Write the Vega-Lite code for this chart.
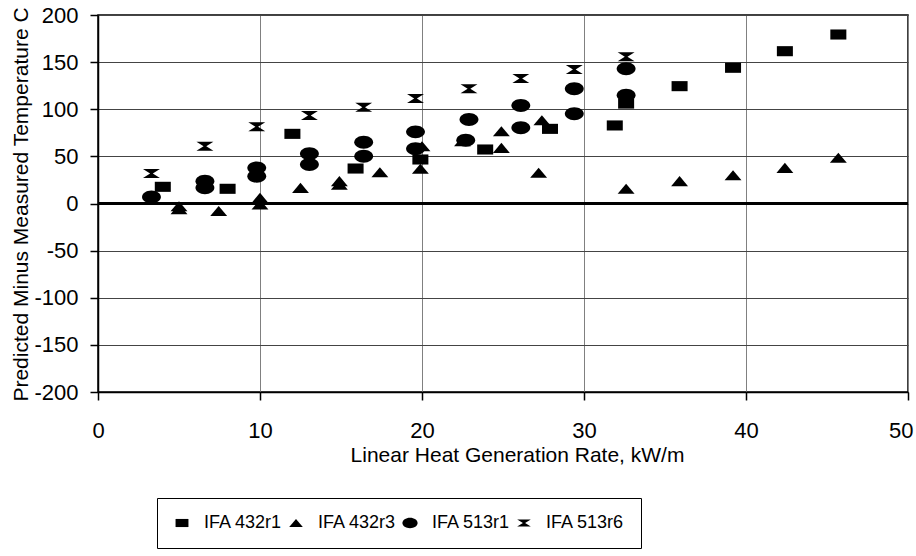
{
  "$schema": "https://vega.github.io/schema/vega-lite/v6.json",
  "autosize": "none",
  "width": 810,
  "height": 377,
  "padding": {"left": 98, "top": 15, "right": 8, "bottom": 164},
  "background": "white",
  "config": {
    "font": "Liberation Sans",
    "view": {"stroke": "black", "strokeWidth": 1.5},
    "axis": {"labelFont": "Liberation Sans", "titleFont": "Liberation Sans", "labelColor": "black", "titleColor": "black", "titleFontWeight": "normal", "domainColor": "black", "tickColor": "black", "domainWidth": 1.5, "tickWidth": 1.5}
  },
  "data": {"values": [
    {"s": "IFA 432r1", "x": 4.0, "y": 17.7},
    {"s": "IFA 432r1", "x": 8.0, "y": 15.6},
    {"s": "IFA 432r1", "x": 12.0, "y": 73.9},
    {"s": "IFA 432r1", "x": 15.9, "y": 37.1},
    {"s": "IFA 432r1", "x": 19.9, "y": 46.7},
    {"s": "IFA 432r1", "x": 23.9, "y": 57.3},
    {"s": "IFA 432r1", "x": 27.9, "y": 79.2},
    {"s": "IFA 432r1", "x": 31.9, "y": 82.8},
    {"s": "IFA 432r1", "x": 32.6, "y": 106},
    {"s": "IFA 432r1", "x": 35.9, "y": 124.5},
    {"s": "IFA 432r1", "x": 39.2, "y": 144},
    {"s": "IFA 432r1", "x": 42.4, "y": 161.6},
    {"s": "IFA 432r1", "x": 45.7, "y": 179.3},
    {"s": "IFA 432r3", "x": 5.0, "y": -3},
    {"s": "IFA 432r3", "x": 5.0, "y": -6},
    {"s": "IFA 432r3", "x": 7.45, "y": -8},
    {"s": "IFA 432r3", "x": 10.0, "y": 6},
    {"s": "IFA 432r3", "x": 10.0, "y": -1},
    {"s": "IFA 432r3", "x": 12.5, "y": 16.6},
    {"s": "IFA 432r3", "x": 14.9, "y": 23.7},
    {"s": "IFA 432r3", "x": 14.9, "y": 20},
    {"s": "IFA 432r3", "x": 17.4, "y": 33.2},
    {"s": "IFA 432r3", "x": 19.9, "y": 36.8},
    {"s": "IFA 432r3", "x": 20.0, "y": 60.8},
    {"s": "IFA 432r3", "x": 22.5, "y": 66},
    {"s": "IFA 432r3", "x": 24.9, "y": 76.7},
    {"s": "IFA 432r3", "x": 24.9, "y": 59},
    {"s": "IFA 432r3", "x": 27.4, "y": 88.4},
    {"s": "IFA 432r3", "x": 27.2, "y": 32.6},
    {"s": "IFA 432r3", "x": 32.6, "y": 15.6},
    {"s": "IFA 432r3", "x": 35.9, "y": 23.7},
    {"s": "IFA 432r3", "x": 39.2, "y": 30},
    {"s": "IFA 432r3", "x": 42.4, "y": 37.8},
    {"s": "IFA 432r3", "x": 45.7, "y": 48.5},
    {"s": "IFA 513r1", "x": 3.3, "y": 7},
    {"s": "IFA 513r1", "x": 6.6, "y": 23.7},
    {"s": "IFA 513r1", "x": 6.6, "y": 16.6},
    {"s": "IFA 513r1", "x": 9.8, "y": 37.8},
    {"s": "IFA 513r1", "x": 9.8, "y": 29},
    {"s": "IFA 513r1", "x": 13.05, "y": 52.7},
    {"s": "IFA 513r1", "x": 13.05, "y": 41.4},
    {"s": "IFA 513r1", "x": 16.4, "y": 65},
    {"s": "IFA 513r1", "x": 16.4, "y": 50.2},
    {"s": "IFA 513r1", "x": 19.6, "y": 76},
    {"s": "IFA 513r1", "x": 19.6, "y": 58},
    {"s": "IFA 513r1", "x": 22.9, "y": 89.1},
    {"s": "IFA 513r1", "x": 22.7, "y": 67.2},
    {"s": "IFA 513r1", "x": 26.1, "y": 104},
    {"s": "IFA 513r1", "x": 26.1, "y": 80.3},
    {"s": "IFA 513r1", "x": 29.4, "y": 121.7},
    {"s": "IFA 513r1", "x": 29.4, "y": 95.2},
    {"s": "IFA 513r1", "x": 32.6, "y": 142.9},
    {"s": "IFA 513r1", "x": 32.6, "y": 114.9},
    {"s": "IFA 513r6", "x": 3.3, "y": 31.8},
    {"s": "IFA 513r6", "x": 6.6, "y": 60.8},
    {"s": "IFA 513r6", "x": 9.8, "y": 81.4},
    {"s": "IFA 513r6", "x": 13.05, "y": 93.4},
    {"s": "IFA 513r6", "x": 16.4, "y": 102.2},
    {"s": "IFA 513r6", "x": 19.6, "y": 111.4},
    {"s": "IFA 513r6", "x": 22.9, "y": 121.7},
    {"s": "IFA 513r6", "x": 26.1, "y": 132.6},
    {"s": "IFA 513r6", "x": 29.4, "y": 142.2},
    {"s": "IFA 513r6", "x": 32.6, "y": 155.6}
  ]},
  "layer": [
    {
      "mark": {"type": "rule", "color": "black", "strokeWidth": 1.5},
      "encoding": {"y": {"datum": 0, "type": "quantitative"}}
    },
    {
      "mark": {"type": "point", "filled": true, "color": "black", "opacity": 1, "strokeWidth": 0, "size": 324},
      "encoding": {
        "x": {
          "field": "x", "type": "quantitative",
          "scale": {"domain": [0, 50], "nice": false, "zero": false},
          "axis": {"values": [0, 10, 20, 30, 40, 50], "grid": true, "gridColor": "#808080", "gridWidth": 1, "gridOpacity": 1, "tickSize": 8, "labelFontSize": 22, "labelBaseline": "alphabetic", "labelPadding": 37, "labelFlush": false,
            "labelAlign": {"condition": {"test": "datum.value == 50", "value": "right"}, "value": "center"},
            "labelOffset": {"condition": {"test": "datum.value == 50", "value": 5}, "value": 0},
            "title": "Linear Heat Generation Rate, kW/m", "titleFontSize": 21, "titleBaseline": "alphabetic", "titleX": 419, "titleY": 69}
        },
        "y": {
          "field": "y", "type": "quantitative",
          "scale": {"domain": [-200, 200], "nice": false, "zero": false},
          "axis": {"values": [-200, -150, -100, -50, 0, 50, 100, 150, 200], "grid": true, "gridColor": "#444444", "gridWidth": 1, "gridOpacity": 1, "tickSize": 8, "labelFontSize": 22, "labelPadding": 12, "labelFlush": false,
            "labelExpr": "replace(datum.label, '\u2212', '-')",
            "title": "Predicted Minus Measured Temperature C", "titleFontSize": 21, "titleBaseline": "alphabetic", "titleAngle": -90, "titleX": -71, "titleY": 189}
        },
        "shape": {
          "field": "s", "type": "nominal",
          "scale": {
            "domain": ["IFA 432r1", "IFA 432r3", "IFA 513r1", "IFA 513r6"],
            "range": [
              "M-0.89,-0.56H0.89V0.56H-0.89Z",
              "M0,-0.56L0.94,0.56H-0.94Z",
              "M-1.05,0A1.05,0.72,0,1,0,1.05,0A1.05,0.72,0,1,0,-1.05,0Z",
              "M-0.94,-0.5H0.94L0.15,0L0.94,0.5H-0.94L-0.15,0Z"
            ]
          },
          "legend": {
            "title": null,
            "orient": "none",
            "legendX": 59,
            "legendY": 483,
            "direction": "horizontal",
            "columns": 4,
            "padding": 16,
            "strokeColor": "black",
            "fillColor": "white",
            "labelFont": "Liberation Sans",
            "labelFontSize": 18,
            "labelColor": "black",
            "labelOffset": 13,
            "columnPadding": 4,
            "symbolSize": 210,
            "symbolFillColor": "black",
            "symbolStrokeWidth": 0
          }
        }
      }
    }
  ]
}
